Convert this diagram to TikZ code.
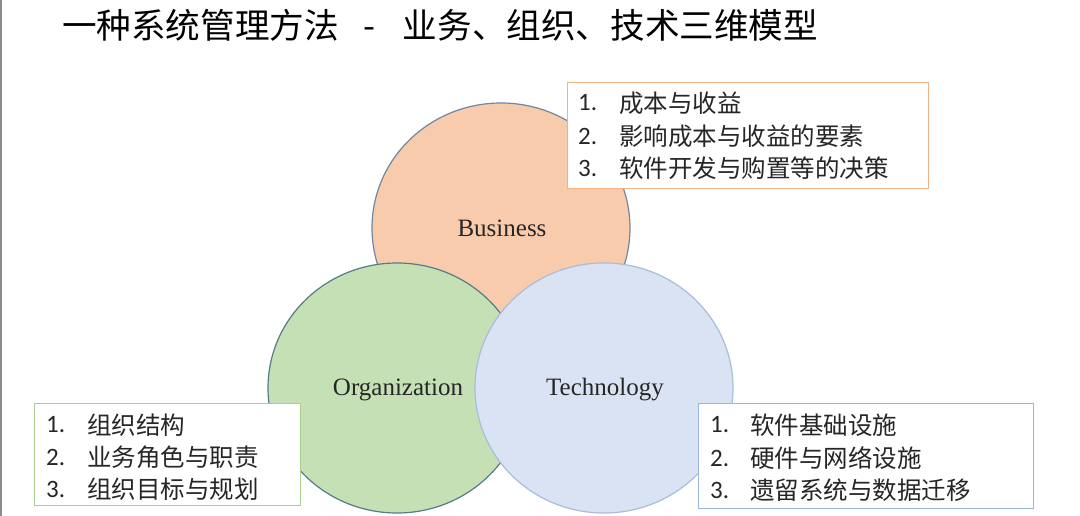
\documentclass[tikz,border=0pt]{standalone}
\usepackage{fontspec}
\setmainfont{Liberation Serif}
\newfontfamily\cjk{Noto Sans CJK SC}
\newfontfamily\numfont{Carlito}
\definecolor{bizfill}{HTML}{F8CBAD}
\definecolor{orgfill}{HTML}{C5E0B4}
\definecolor{techfill}{HTML}{DAE3F3}
\definecolor{bizline}{HTML}{6F87A0}
\definecolor{orgline}{HTML}{557C88}
\definecolor{techline}{HTML}{A9BCDB}
\definecolor{bizbox}{HTML}{F4B183}
\definecolor{orgbox}{HTML}{A9D18E}
\definecolor{techbox}{HTML}{9DB5DE}
\definecolor{txt}{HTML}{262626}
\tikzset{
  circ/.style={ellipse, inner sep=0pt, line width=1.2pt, minimum width=258pt, minimum height=250pt},
  lbl/.style={font=\fontsize{25}{30}\selectfont, text=txt, inner sep=0pt},
  listbox/.style={draw, fill=white, line width=1.3pt, anchor=north west, inner sep=0pt},
  num/.style={font=\numfont\fontsize{25}{30}\selectfont, text=txt, anchor=west, inner sep=0pt},
  item/.style={font=\cjk\fontsize{24.5}{30}\selectfont, text=txt, anchor=west, inner sep=0pt},
}
\usetikzlibrary{shapes.geometric}
\begin{document}
\begin{tikzpicture}[x=1pt,y=-1pt]
\useasboundingbox (0,0) rectangle (1080,516);
\fill[white] (0,0) rectangle (1080,516);
\fill[gray!90] (0,0) rectangle (2,516);
% title
\node[font=\cjk\fontsize{34.6}{36}\selectfont, anchor=west, inner sep=0pt, text=black] (title) at (62,25) {一种系统管理方法\hspace{25pt}-\hspace{27pt}业务、组织、技术三维模型};
% circles
\node[circ, draw=bizline, fill=bizfill] (biz) at (501,228) {};
\node[circ, draw=orgline, fill=orgfill] (org) at (397,388) {};
\node[circ, draw=techline, fill=techfill] (tech) at (604,388) {};
\node[lbl] (bizl) at (502,228) {Business};
\node[lbl] (orgl) at (398,390) {Organization};
\node[lbl] (techl) at (605,390) {Technology};
% business box
\node[listbox, draw=bizbox, minimum width=361pt, minimum height=106pt] (bbox) at (567,82) {};
\node[num] (b1n) at (578,103) {1.};
\node[num] (b2n) at (578,136) {2.};
\node[num] (b3n) at (578,168) {3.};
\node[item] (b1) at (619,103) {成本与收益};
\node[item] (b2) at (619,136) {影响成本与收益的要素};
\node[item] (b3) at (619,168) {软件开发与购置等的决策};
% organization box
\node[listbox, draw=orgbox, minimum width=266pt, minimum height=102pt] (obox) at (34,403) {};
\node[num] (o1n) at (46,425) {1.};
\node[num] (o2n) at (46,457) {2.};
\node[num] (o3n) at (46,489) {3.};
\node[item] (o1) at (87,425) {组织结构};
\node[item] (o2) at (87,457) {业务角色与职责};
\node[item] (o3) at (87,489) {组织目标与规划};
% technology box
\node[listbox, draw=techbox, minimum width=335pt, minimum height=105pt] (tbox) at (698,403) {};
\node[num] (t1n) at (710,425) {1.};
\node[num] (t2n) at (710,458) {2.};
\node[num] (t3n) at (710,490) {3.};
\node[item] (t1) at (750,425) {软件基础设施};
\node[item] (t2) at (750,458) {硬件与网络设施};
\node[item] (t3) at (750,490) {遗留系统与数据迁移};
\end{tikzpicture}
\end{document}
